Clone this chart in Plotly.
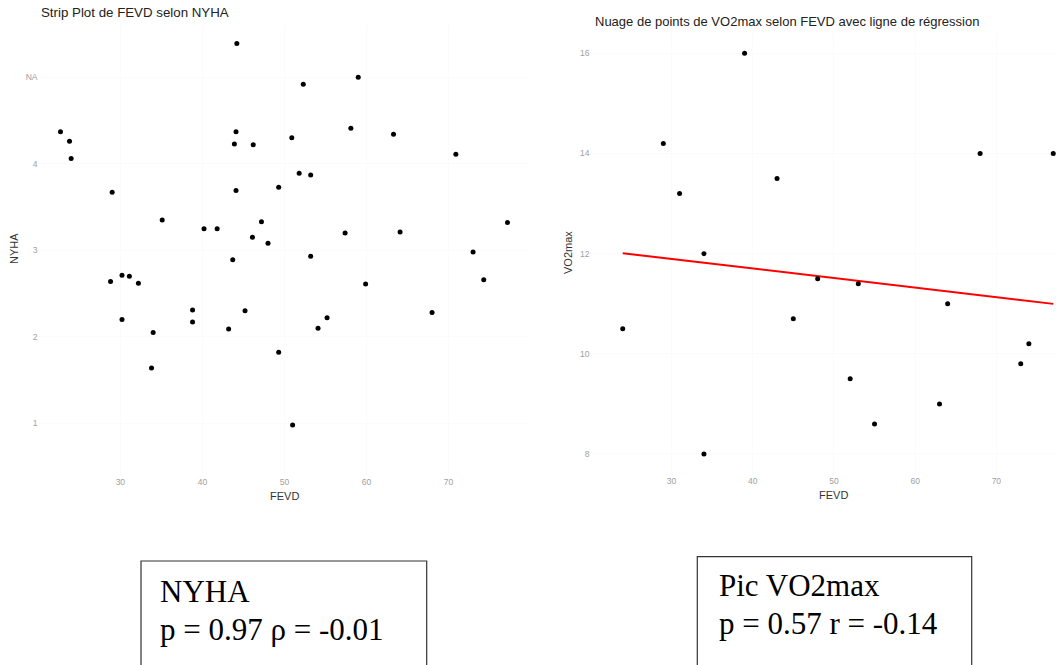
import numpy as np
import plotly.graph_objects as go

W, H = 1056, 665

# ---------------- data ----------------
# Left panel: strip plot, FEVD vs NYHA (jittered vertical positions; 5 = "NA")
strip_fevd = [44.2, 22.7, 23.8, 24.0, 29.0, 44.1, 43.9, 46.2, 44.1, 49.3,
              35.1, 40.2, 41.8, 47.2, 46.1, 48.0, 43.7, 28.8, 30.2, 31.1,
              32.2, 38.8, 45.2, 30.2, 38.8, 34.0, 43.2, 49.3, 33.8, 52.3,
              59.0, 58.1, 50.9, 63.3, 70.9, 51.8, 53.2, 57.4, 64.1, 77.2,
              73.0, 53.2, 59.9, 74.3, 68.0, 55.2, 54.1, 51.0]
strip_nyha_pos = [5.39, 4.37, 4.26, 4.06, 3.67, 4.37, 4.23, 4.22, 3.69, 3.73,
                  3.35, 3.25, 3.25, 3.33, 3.15, 3.08, 2.89, 2.64, 2.71, 2.70,
                  2.62, 2.31, 2.30, 2.20, 2.17, 2.05, 2.09, 1.82, 1.64, 4.92,
                  5.00, 4.41, 4.30, 4.34, 4.11, 3.89, 3.87, 3.20, 3.21, 3.32,
                  2.98, 2.93, 2.61, 2.66, 2.28, 2.22, 2.10, 0.98]
nyha_tickvals = [1, 2, 3, 4, 5]
nyha_ticktext = ["1", "2", "3", "4", "NA"]

# Right panel: VO2max vs FEVD
vo2_fevd = [39, 29, 31, 43, 68, 77, 34, 24, 34, 45, 48, 53, 64, 74, 73, 52, 63, 55]
vo2_max = [16.0, 14.2, 13.2, 13.5, 14.0, 14.0, 12.0, 10.5, 8.0, 10.7,
           11.5, 11.4, 11.0, 10.2, 9.8, 9.5, 9.0, 8.6]

box_left_lines = ["NYHA", "p = 0.97 \u03c1 = -0.01"]
box_right_lines = ["Pic VO2max", "p = 0.57 r = -0.14"]

# ---------------- helpers for layout positions ----------------
def px(x):
    return x / W

def py(y):
    return 1 - y / H

# regression line
slope, intercept = np.polyfit(vo2_fevd, vo2_max, 1)
fx = np.array([min(vo2_fevd), max(vo2_fevd)])
fy = slope * fx + intercept

fig = go.Figure()
fig.add_trace(go.Scatter(x=strip_fevd, y=strip_nyha_pos, mode="markers",
                         marker=dict(color="black", size=5),
                         xaxis="x", yaxis="y", showlegend=False, cliponaxis=False))
fig.add_trace(go.Scatter(x=fx, y=fy, mode="lines",
                         line=dict(color="#ff0000", width=2),
                         xaxis="x2", yaxis="y2", showlegend=False))
fig.add_trace(go.Scatter(x=vo2_fevd, y=vo2_max, mode="markers",
                         marker=dict(color="black", size=5),
                         xaxis="x2", yaxis="y2", showlegend=False, cliponaxis=False))

tickfont = dict(family="Liberation Sans, Arial, sans-serif", size=8.5, color="#a0a0a0")
common = dict(showline=False, zeroline=False, ticks="", showgrid=True,
              gridcolor="#fbfbfb", tickfont=tickfont)

fig.update_layout(
    width=W, height=H,
    margin=dict(l=0, r=0, t=0, b=0),
    paper_bgcolor="white", plot_bgcolor="white",
    xaxis=dict(domain=[px(38.5), px(530)], range=[20.02, 79.94],
               tickvals=[30, 40, 50, 60, 70], anchor="y", **common),
    yaxis=dict(domain=[py(475.2), py(24.5)], range=[0.4, 5.61],
               tickvals=nyha_tickvals, ticktext=nyha_ticktext, anchor="x", **common),
    xaxis2=dict(domain=[px(590.4), 1.0], range=[20.02, 77.34],
                tickvals=[30, 40, 50, 60, 70], anchor="y2", **common),
    yaxis2=dict(domain=[py(474), py(33.25)], range=[7.6, 16.4],
                tickvals=[8, 10, 12, 14, 16], anchor="x2", **common),
)

sans = "Liberation Sans, Arial, sans-serif"
serif = "Liberation Serif, Times New Roman, serif"
ann = []
# titles
ann.append(dict(text="Strip Plot de FEVD selon NYHA", x=px(39), y=py(12.5),
                xanchor="left", yanchor="middle",
                font=dict(family=sans, size=13.3, color="#222")))
ann.append(dict(text="Nuage de points de VO2max selon FEVD avec ligne de r\u00e9gression",
                x=px(592.5), y=py(22), xanchor="left", yanchor="middle",
                font=dict(family=sans, size=13, color="#222")))
# axis titles
axfont = dict(family=sans, size=11, color="#333")
ann.append(dict(text="FEVD", x=px(284), y=py(496), xanchor="center", yanchor="middle", font=axfont))
ann.append(dict(text="NYHA", x=px(14), y=py(249), xanchor="center", yanchor="middle",
                textangle=-90, font=axfont))
ann.append(dict(text="FEVD", x=px(833), y=py(495), xanchor="center", yanchor="middle", font=axfont))
ann.append(dict(text="VO2max", x=px(568), y=py(253), xanchor="center", yanchor="middle",
                textangle=-90, font=axfont))
# boxes text
bfont = dict(family=serif, size=31, color="black")
ann.append(dict(text=box_left_lines[0], x=px(158), y=py(591), xanchor="left", yanchor="middle", font=bfont))
ann.append(dict(text=box_left_lines[1], x=px(158), y=py(629), xanchor="left", yanchor="middle", font=bfont))
ann.append(dict(text=box_right_lines[0], x=px(717), y=py(585), xanchor="left", yanchor="middle", font=bfont))
ann.append(dict(text=box_right_lines[1], x=px(717), y=py(623), xanchor="left", yanchor="middle", font=bfont))
for a in ann:
    a.update(xref="paper", yref="paper", showarrow=False)
fig.update_layout(annotations=ann)

fig.update_layout(shapes=[
    dict(type="rect", xref="paper", yref="paper", x0=px(141), x1=px(426.7),
         y0=py(561), y1=py(680), line=dict(color="#333", width=1.2)),
    dict(type="rect", xref="paper", yref="paper", x0=px(697.3), x1=px(971.7),
         y0=py(556.7), y1=py(680), line=dict(color="#333", width=1.2)),
])

fig.write_html("out.html")
